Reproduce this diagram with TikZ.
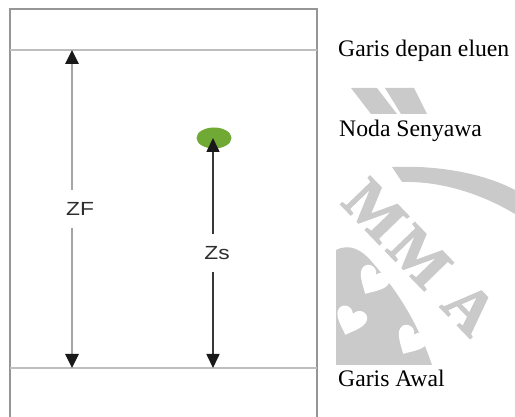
\documentclass[tikz,border=0pt]{standalone}
\usepackage{fontspec}
\setmainfont{Liberation Serif}
\newfontfamily\labelsans{Liberation Sans}
\newfontfamily\emblemfont[FakeBold=2.5]{Liberation Serif Bold}
\usetikzlibrary{arrows.meta,shapes.geometric}

\definecolor{framegray}{RGB}{150,150,150}
\definecolor{linegray}{RGB}{190,190,190}
\definecolor{shaftgray}{RGB}{165,165,165}
\definecolor{shaftdark}{RGB}{55,55,55}
\definecolor{tipblack}{RGB}{25,25,25}
\definecolor{spotgreen}{RGB}{112,170,52}
\definecolor{markgray}{RGB}{202,202,202}
\definecolor{labelgray}{RGB}{45,45,45}

\begin{document}
\begin{tikzpicture}[x=1pt,y=-1pt,
  frame/.style={draw=framegray,line width=2pt},
  front/.style={draw=linegray,line width=2pt},
  arrowtip/.style={-{Triangle[length=14pt,width=13pt,color=tipblack]}},
  zfshaft/.style={arrowtip,draw=shaftgray,line width=2.6pt},
  zsshaft/.style={arrowtip,draw=shaftdark,line width=1.6pt},
  axislabel/.style={inner sep=0pt,minimum height=38pt,text=labelgray,
    font=\labelsans\fontsize{19}{19}\selectfont},
  note/.style={inner sep=0pt,anchor=base west,text=black,
    font=\fontsize{23.7}{24}\selectfont},
  spotshape/.style={ellipse,fill=spotgreen,draw=none,inner sep=0pt,
    minimum width=35pt,minimum height=21pt},
  markletters/.style={inner sep=0pt,text=markgray,
    font=\emblemfont\fontsize{62}{62}\selectfont},
  heart/.pic={\fill[white,scale=1.7] (0,8) .. controls (-4,4) and (-9,0) .. (-9,-4)
      .. controls (-9,-9) and (-2,-10) .. (0,-5)
      .. controls (2,-10) and (9,-9) .. (9,-4)
      .. controls (9,0) and (4,4) .. (0,8) -- cycle;}]

\useasboundingbox (0,0) rectangle (515,417);

% faded emblem behind the right-hand notes
\begin{scope}
  \clip (336,88) rectangle (441,114) (336,167) rectangle (515,365);
  \fill[markgray] (351,88) -- (377,88) -- (397,114) -- (371,114) -- cycle;
  \fill[markgray] (385,88) -- (414,88) -- (427,114) -- (401,114) -- cycle;
  \fill[markgray] (392,167) .. controls (440,165) and (485,174) .. (515,190)
    -- (515,214) .. controls (480,193) and (440,181) .. (402,182) -- cycle;
  \node[markletters,rotate=-46] (mma) at (420,257) {M\hspace{6pt}M\hspace{20pt}A};
  \fill[markgray] (336,250) .. controls (350,243) and (362,250) .. (372,262)
    .. controls (392,285) and (415,315) .. (432,365) -- (336,365) -- cycle;
  \pic[rotate=-30] at (372,282) {heart};
  \pic[rotate=-30] at (410,342) {heart};
  \pic[rotate=-20] at (350,322) {heart};
\end{scope}

% plate outline with origin line and solvent front
\draw[frame] (10,417) -- (10,9) -- (317,9) -- (317,417);
\coordinate (fl) at (10,50);  \coordinate (fr) at (317,50);
\coordinate (ol) at (10,368); \coordinate (or) at (317,368);
\draw[front] (fl) -- (fr);
\draw[front] (ol) -- (or);

% solvent distance ZF
\coordinate (zftop) at (72,50);
\coordinate (zfbot) at (72,368);
\node[axislabel] (zf) at (80,209) {\scalebox{1.2}[1]{ZF}};
\draw[zfshaft] (zf.north -| zftop) -- (zftop);
\draw[zfshaft] (zf.south -| zfbot) -- (zfbot);

% spot distance Zs
\node[spotshape] (spot) at (214,138) {};
\coordinate (zsbot) at (213,368);
\node[axislabel] (zs) at (217,253) {\scalebox{1.2}[1]{Zs}};
\draw[zsshaft] (zs.north -| zsbot) -- (spot.center -| zsbot);
\draw[zsshaft] (zs.south -| zsbot) -- (zsbot);

% notes
\node[note] (tfront) at (338,57) {Garis depan eluen};
\node[note] (tspot) at (339,137) {Noda Senyawa};
\node[note] (tstart) at (338,387) {Garis Awal};
\end{tikzpicture}
\end{document}
